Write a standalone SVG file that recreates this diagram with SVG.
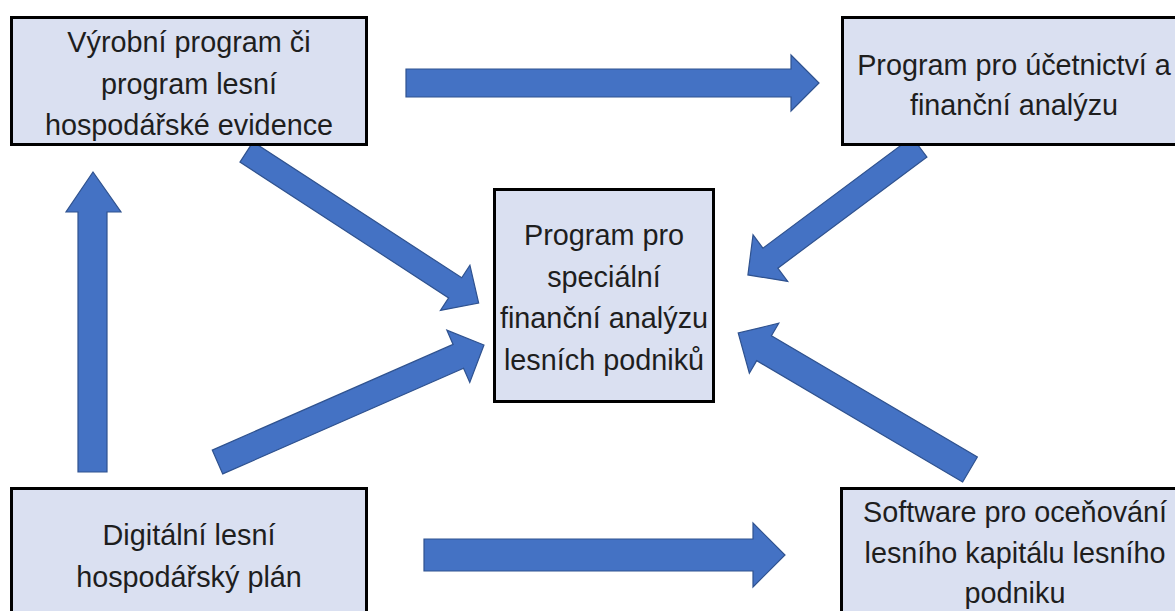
<svg xmlns="http://www.w3.org/2000/svg" width="1175" height="611" viewBox="0 0 1175 611">
<style>
.box{fill:#DAE0F1;stroke:#000;stroke-width:3}
.lbl{font-family:"Liberation Sans",Arial,sans-serif;font-size:28.8px;fill:#1E1E1E;text-anchor:middle}
.arr{fill:#4472C4;stroke:#2F528F;stroke-width:1.2;stroke-linejoin:miter}
</style>
<rect width="1175" height="611" fill="#fff"/>
<g id="connectors">
<polygon class="arr" points="406,69 791,69 791,55 819,83 791,111 791,97 406,97"/>
<polygon class="arr" points="424,539 753,539 753,523 785,555 753,587 753,571 424,571"/>
<polygon class="arr" points="78,472 78,212 66,212 93,172 121,212 107,212 107,472"/>
<polygon class="arr" transform="translate(246.5,152) rotate(33.06)" points="0,-12 249,-12 249,-27 277,0 249,27 249,12 0,12"/>
<polygon class="arr" transform="translate(217.5,462) rotate(-23.7)" points="0,-13 263,-13 263,-28.5 291,0 263,28.5 263,13 0,13"/>
<polygon class="arr" transform="translate(919.5,147) rotate(143.3)" points="0,-12.5 186,-12.5 186,-29 214,0 186,29 186,12.5 0,12.5"/>
<polygon class="arr" transform="translate(970,469.5) rotate(210.5)" points="0,-14.5 239,-14.5 239,-29 269,0 239,29 239,14.5 0,14.5"/>
</g>
<g id="node-vyrobni">
<rect class="box" x="11.5" y="17.5" width="355" height="127"/>
<text class="lbl" x="189" y="52">Výrobní program či</text>
<text class="lbl" x="189" y="94">program lesní</text>
<text class="lbl" x="189" y="135">hospodářské evidence</text>
</g>
<g id="node-ucetnictvi">
<rect class="box" x="842.5" y="17.5" width="345" height="127"/>
<text class="lbl" x="1014" y="75">Program pro účetnictví a</text>
<text class="lbl" x="1014" y="115">finanční analýzu</text>
</g>
<g id="node-center">
<rect class="box" x="494.5" y="189.5" width="219" height="212"/>
<text class="lbl" x="604" y="245">Program pro</text>
<text class="lbl" x="604" y="287">speciální</text>
<text class="lbl" x="604" y="328">finanční analýzu</text>
<text class="lbl" x="604" y="370">lesních podniků</text>
</g>
<g id="node-digitalni">
<rect class="box" x="11.5" y="488.5" width="355" height="140"/>
<text class="lbl" x="189" y="545">Digitální lesní</text>
<text class="lbl" x="189" y="587">hospodářský plán</text>
</g>
<g id="node-software">
<rect class="box" x="841.5" y="488.5" width="348" height="140"/>
<text class="lbl" x="1015" y="522">Software pro oceňování</text>
<text class="lbl" x="1015" y="563">lesního kapitálu lesního</text>
<text class="lbl" x="1015" y="603">podniku</text>
</g>
</svg>
